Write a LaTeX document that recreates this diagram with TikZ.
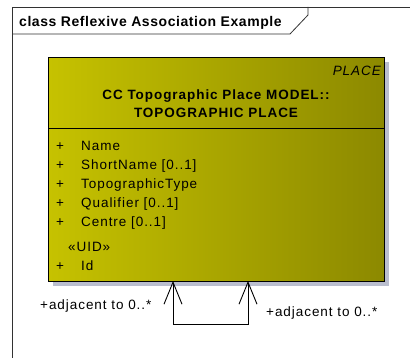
\documentclass[tikz,border=0pt]{standalone}
\usepackage{fontspec}
\setmainfont{Liberation Sans}[LetterSpace=7]
\newfontfamily\titlefont{Liberation Sans}[LetterSpace=4]
\usetikzlibrary{arrows.meta}
\definecolor{olivel}{RGB}{198,194,0}
\definecolor{oliver}{RGB}{140,137,0}
\definecolor{shadowc}{RGB}{186,190,206}
\definecolor{framec}{RGB}{50,50,50}
\begin{document}
\begin{tikzpicture}[x=1pt,y=-1pt,
  txt/.style={anchor=base west, inner sep=0pt, font=\fontsize{13.5}{15}\selectfont},
  ctxt/.style={anchor=base, inner sep=0pt, font=\fontsize{13.5}{15}\selectfont\bfseries},
  classbox/.style={draw=black, line width=1pt, inner sep=0pt, anchor=north west,
    left color=olivel, right color=oliver},
  assoc/.style={draw=black, line width=0.9pt,
    {Straight Barb[length=22pt,width=18pt]}-{Straight Barb[length=22pt,width=18pt]}}]
\useasboundingbox (0,0) rectangle (410,358);
\fill[white] (0,0) rectangle (410,358);

% diagram frame with its name tab
\draw[framec, line width=0.8pt] (12,358) -- (12,7) -- (410,7);
\draw[framec, line width=0.8pt] (12,34) -- (290,34) -- (308,15) -- (308,7);
\node[anchor=base west, inner sep=0pt, font=\fontsize{14}{16}\titlefont\bfseries] (title) at (19,27) {class Reflexive Association Example};

% class box
\fill[shadowc] (53,62) rectangle (389,286);
\node[classbox, minimum width=336pt, minimum height=224pt] (cls) at (48,57) {};
\draw[black, line width=1pt] (48,129) -- (384,129);

\node[anchor=base east, inner sep=0pt, font=\fontsize{13.5}{15}\selectfont\itshape] (stereo) at (381,76) {PLACE};
\node[ctxt] (name1) at (216,100) {CC Topographic Place MODEL::};
\node[ctxt] (name2) at (216,118) {TOPOGRAPHIC PLACE};

% attributes
\foreach \y/\t [count=\i] in {151/Name, 170/{ShortName [0..1]}, 189/TopographicType, 208/{Qualifier [0..1]}, 227/{Centre [0..1]}, 271/Id} {
  \node[txt] (vis\i) at (56,\y) {+};
  \node[txt] (attr\i) at (81,\y) {\t};
}
\node[txt] (uid) at (68,252) {«UID»};

% reflexive association
\coordinate (endA) at (173,281);
\coordinate (endB) at (248,281);
\draw[assoc] (endA) -- ++(0,43) -| (endB);
\node[txt] (roleA) at (40,310) {+adjacent to 0..*};
\node[txt] (roleB) at (266,317) {+adjacent to 0..*};
\end{tikzpicture}
\end{document}
